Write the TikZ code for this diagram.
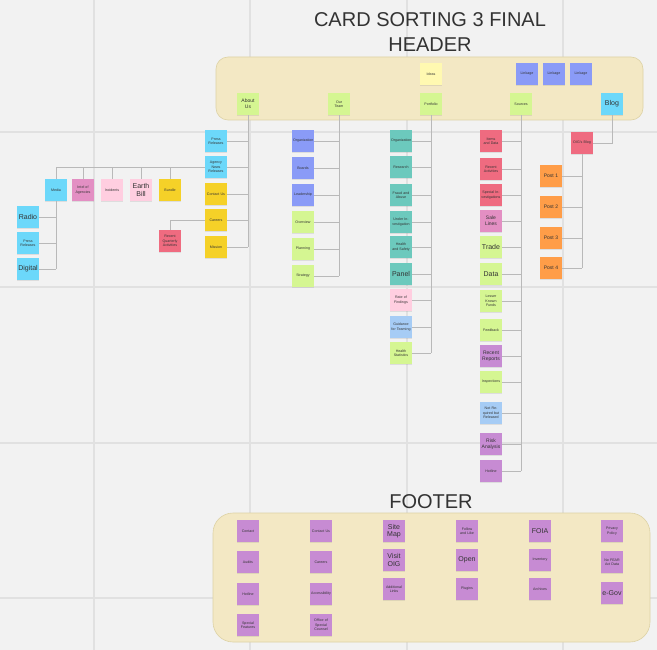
\documentclass[tikz,border=0pt]{standalone}
\usepackage{fontspec}
\setmainfont{Liberation Sans}
\usetikzlibrary{shadows}
\definecolor{bgc}{HTML}{F2F2F2}
\definecolor{gridc}{HTML}{E1E1E1}
\definecolor{bandc}{HTML}{F3E8C4}
\definecolor{bandline}{HTML}{DDD2A5}
\definecolor{linec}{HTML}{B9B9B9}
\definecolor{txt}{HTML}{333333}
\definecolor{cgreen}{HTML}{D5F692}
\definecolor{cpaleyel}{HTML}{FFF9B1}
\definecolor{cyellow}{HTML}{F5D128}
\definecolor{cdblue}{HTML}{8A9BF7}
\definecolor{cblue}{HTML}{6CD8FA}
\definecolor{clblue}{HTML}{A6CCF5}
\definecolor{cteal}{HTML}{6CC9BD}
\definecolor{cred}{HTML}{EF6B80}
\definecolor{cpink}{HTML}{E38FC3}
\definecolor{clpink}{HTML}{FFCEE0}
\definecolor{corange}{HTML}{FF9D48}
\definecolor{cpurple}{HTML}{C78BD3}
\newcommand\notetiny{\fontsize{3.6}{4.3}\selectfont}
\newcommand\notemid{\fontsize{5}{5.8}\selectfont}
\newcommand\notebig{\fontsize{7}{7.6}\selectfont}
\begin{document}
\begin{tikzpicture}[x=1pt,y=-1pt,
  note/.style={draw=none, minimum width=22pt, minimum height=22pt, inner sep=0.5pt,
    text width=20pt, align=center, text=txt, font=\notetiny,
    drop shadow={opacity=0.18, shadow xshift=0pt, shadow yshift=-1.3pt}},
  mid/.style={font=\notemid},
  big/.style={font=\notebig},
  conn/.style={draw=linec, line width=0.8pt},
  band/.style={fill=bandc, draw=bandline, line width=0.6pt},
  titletext/.style={text=txt, font=\fontsize{20}{25}\selectfont}
]
\useasboundingbox (0,0) rectangle (657,650);
\fill[bgc] (0,0) rectangle (657,650);
% grid
\foreach \gx in {94,250,407,563} {\draw[gridc, line width=1.2pt] (\gx,0) -- (\gx,650);}
\foreach \gy in {132,287,443,598} {\draw[gridc, line width=1.2pt] (0,\gy) -- (657,\gy);}

% titles
\node[titletext, align=center] (title) at (430,32) {CARD SORTING 3 FINAL\\HEADER};
\node[titletext] (foottitle) at (431,502) {FOOTER};

% bands
\node[band, rounded corners=12pt, minimum width=427pt, minimum height=63pt] (headerband) at (429.5,88.5) {};
\node[band, rounded corners=20pt, minimum width=437pt, minimum height=129pt] (footerband) at (431.5,577.5) {};

% header notes
\node[note, fill=cpaleyel] (ideas) at (431,74) {Ideas};
\node[note, fill=cdblue] (link1) at (527,74) {Linkage};
\node[note, fill=cdblue] (link2) at (554,74) {Linkage};
\node[note, fill=cdblue] (link3) at (581,74) {Linkage};
\node[note, fill=cgreen, mid] (aboutus) at (248,104) {About\\Us};
\node[note, fill=cgreen] (ourteam) at (339,104) {Our\\Team};
\node[note, fill=cgreen] (portfolio) at (431,104) {Portfolio};
\node[note, fill=cgreen] (sources) at (521,104) {Sources};
\node[note, fill=cblue, big] (blog) at (612,104) {Blog};

% About Us
\node[note, fill=cblue] (press) at (216,141) {Press Releases};
\node[note, fill=cblue] (agency) at (216,167) {Agency News Releases};
\node[note, fill=cyellow] (contact) at (216,194) {Contact Us};
\node[note, fill=cyellow] (careers) at (216,220) {Careers};
\node[note, fill=cyellow] (mission) at (216,247) {Mission};
\draw[conn] (aboutus.south) -- (aboutus.south |- mission.east);
\foreach \n in {press,agency,contact,careers,mission} {\draw[conn] (\n.east) -- (\n.east -| aboutus.south);}

% media row
\node[note, fill=cblue] (media) at (56,190) {Media};
\node[note, fill=cpink] (intel) at (83,190) {Intel of Agencies};
\node[note, fill=clpink] (incidents) at (112,190) {Incidents};
\node[note, fill=clpink, big] (earth) at (141,190) {Earth Bill};
\node[note, fill=cyellow] (bundle) at (170,190) {Bundle};
\draw[conn] (agency.west) -- (agency.west -| media.north) -- (media.north);
\foreach \n in {intel,incidents,earth,bundle} {\draw[conn] (\n.north) -- (\n.north |- agency.west);}

\node[note, fill=cblue, big] (radio) at (28,217) {Radio};
\node[note, fill=cblue] (print) at (28,243) {Press Releases};
\node[note, fill=cblue, big] (digital) at (28,269) {Digital};
\draw[conn] (media.south) -- (media.south |- digital.east);
\foreach \n in {radio,print,digital} {\draw[conn] (\n.east) -- (\n.east -| media.south);}

\node[note, fill=cred] (recent) at (170,241) {Recent Quarterly Activities};
\draw[conn] (careers.west) -- (careers.west -| recent.north) -- (recent.north);

% Our Team
\node[note, fill=cdblue] (org1) at (303,141) {Organization};
\node[note, fill=cdblue] (boards) at (303,168) {Boards};
\node[note, fill=cdblue] (leader) at (303,195) {Leadership};
\node[note, fill=cgreen] (overview) at (303,222) {Overview};
\node[note, fill=cgreen] (planning) at (303,249) {Planning};
\node[note, fill=cgreen] (strategy) at (303,276) {Strategy};
\draw[conn] (ourteam.south) -- (ourteam.south |- strategy.east);
\foreach \n in {org1,boards,leader,overview,planning,strategy} {\draw[conn] (\n.east) -- (\n.east -| ourteam.south);}

% Portfolio
\node[note, fill=cteal] (org2) at (401,141) {Organization};
\node[note, fill=cteal] (research) at (401,167) {Research};
\node[note, fill=cteal] (fraud) at (401,195) {Fraud and Abuse};
\node[note, fill=cteal] (underinv) at (401,222) {Under Investigation};
\node[note, fill=cteal] (health) at (401,247) {Health and Safety};
\node[note, fill=cteal, big] (panel) at (401,274) {Panel};
\node[note, fill=clpink] (rate) at (401,300) {Rate of Findings};
\node[note, fill=clblue] (guidance) at (401,327) {Guidance for Teaming};
\node[note, fill=cgreen] (stats) at (401,353) {Health Statistics};
\draw[conn] (portfolio.south) -- (portfolio.south |- stats.east);
\foreach \n in {org2,research,fraud,underinv,health,panel,rate,guidance,stats} {\draw[conn] (\n.east) -- (\n.east -| portfolio.south);}

% Sources
\node[note, fill=cred] (items) at (491,141) {Items and Data};
\node[note, fill=cred] (recentact) at (491,169) {Recent Activities};
\node[note, fill=cred] (special) at (491,195) {Special Investigations};
\node[note, fill=cpink, mid] (sale) at (491,221) {Sale Lines};
\node[note, fill=cgreen, big] (trade) at (491,247) {Trade};
\node[note, fill=cgreen, big] (data) at (491,274) {Data};
\node[note, fill=cgreen] (lesser) at (491,301) {Lesser Known Funds};
\node[note, fill=cgreen] (feedback) at (491,330) {Feedback};
\node[note, fill=cpurple, mid] (reports) at (491,356) {Recent Reports};
\node[note, fill=cgreen] (inspect) at (491,382) {Inspections};
\node[note, fill=clblue] (notreq) at (491,413) {Not Required but Released};
\node[note, fill=cpurple, mid] (risk) at (491,444) {Risk Analysis};
\node[note, fill=cpurple] (hotline) at (491,471) {Hotline};
\draw[conn] (sources.south) -- (sources.south |- hotline.east);
\foreach \n in {items,recentact,special,sale,trade,data,lesser,feedback,reports,inspect,notreq,risk,hotline} {\draw[conn] (\n.east) -- (\n.east -| sources.south);}

% Blog
\node[note, fill=cred] (oigblog) at (582,143) {OIG's Blog};
\draw[conn] (blog.south) -- (blog.south |- oigblog.east) -- (oigblog.east);
\node[note, fill=corange, mid] (post1) at (551,176) {Post 1};
\node[note, fill=corange, mid] (post2) at (551,207) {Post 2};
\node[note, fill=corange, mid] (post3) at (551,238) {Post 3};
\node[note, fill=corange, mid] (post4) at (551,268) {Post 4};
\draw[conn] (oigblog.south) -- (oigblog.south |- post4.east);
\foreach \n in {post1,post2,post3,post4} {\draw[conn] (\n.east) -- (\n.east -| oigblog.south);}

% Footer
\node[note, fill=cpurple] (f11) at (248,531) {Contact};
\node[note, fill=cpurple] (f12) at (248,562) {Audits};
\node[note, fill=cpurple] (f13) at (248,594) {Hotline};
\node[note, fill=cpurple] (f14) at (248,625) {Special Features};
\node[note, fill=cpurple] (f21) at (321,531) {Contact Us};
\node[note, fill=cpurple] (f22) at (321,562) {Careers};
\node[note, fill=cpurple] (f23) at (321,594) {Accessibility};
\node[note, fill=cpurple] (f24) at (321,625) {Office of Special Counsel};
\node[note, fill=cpurple, big] (f31) at (394,531) {Site Map};
\node[note, fill=cpurple, big] (f32) at (394,560) {Visit OIG};
\node[note, fill=cpurple] (f33) at (394,589) {Additional Links};
\node[note, fill=cpurple] (f41) at (467,531) {Follow and Like};
\node[note, fill=cpurple, big] (f42) at (467,560) {Open};
\node[note, fill=cpurple] (f43) at (467,589) {Plugins};
\node[note, fill=cpurple, big] (f51) at (540,531) {FOIA};
\node[note, fill=cpurple] (f52) at (540,560) {Inventory};
\node[note, fill=cpurple] (f53) at (540,589) {Archives};
\node[note, fill=cpurple] (f61) at (612,531) {Privacy Policy};
\node[note, fill=cpurple] (f62) at (612,562) {No FEAR Act Data};
\node[note, fill=cpurple, big] (f63) at (612,593) {e-Gov};
\end{tikzpicture}
\end{document}
